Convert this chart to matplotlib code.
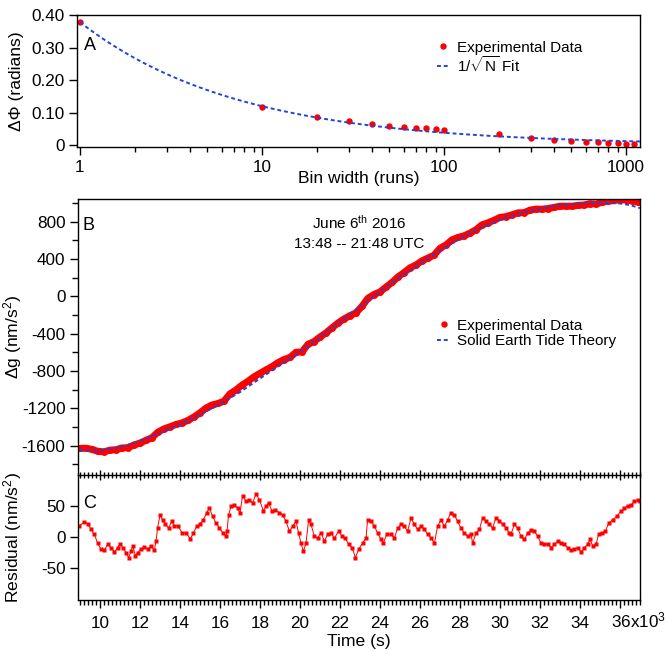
import matplotlib
matplotlib.use('Agg')
import matplotlib.pyplot as plt
import numpy as np
from matplotlib.lines import Line2D
from matplotlib.ticker import FixedLocator, FuncFormatter, NullFormatter, LogLocator

plt.rcParams['font.family'] = ['Liberation Sans', 'DejaVu Sans']
plt.rcParams['mathtext.fontset'] = 'custom'
plt.rcParams['mathtext.rm'] = 'Liberation Sans'
plt.rcParams['mathtext.it'] = 'Liberation Sans:italic'
plt.rcParams['mathtext.bf'] = 'Liberation Sans:bold'
plt.rcParams['axes.unicode_minus'] = False
plt.rcParams['axes.linewidth'] = 1.0

RED = '#ff0000'
BLUE = '#2045d8'

# panel A: phase noise vs bin width
bin_width = [1, 10, 20, 30, 40, 50, 60, 70, 80, 90, 100,
             200, 300, 400, 500, 600, 700, 800, 900, 1000, 1100]
dphi = [0.377, 0.118, 0.087, 0.074, 0.066, 0.059, 0.056, 0.053, 0.051, 0.049, 0.047,
        0.033, 0.022, 0.016, 0.013, 0.010, 0.008, 0.007, 0.005, 0.003, 0.003]
fit_amp = 0.378  # 1/sqrt(N) fit amplitude

# panel B: gravity vs time (time in 10^3 s)
t_data_ks = [9.0, 9.3, 9.6, 9.9, 10.2, 10.5, 10.8, 11.1, 11.4, 11.7,
             12.0, 12.3, 12.6, 12.9, 13.2, 13.5, 13.8, 14.1, 14.4, 14.7,
             15.0, 15.3, 15.6, 15.9, 16.2, 16.5, 16.8, 17.1, 17.4, 17.7,
             18.0, 18.3, 18.6, 18.9, 19.2, 19.5, 19.8, 20.1, 20.4, 20.7,
             21.0, 21.3, 21.6, 21.9, 22.2, 22.5, 22.8, 23.1, 23.4, 23.7,
             24.0, 24.3, 24.6, 24.9, 25.2, 25.5, 25.8, 26.1, 26.4, 26.7,
             27.0, 27.3, 27.6, 27.9, 28.2, 28.5, 28.8, 29.1, 29.4, 29.7,
             30.0, 30.3, 30.6, 30.9, 31.2, 31.5, 31.8, 32.1, 32.4, 32.7,
             33.0, 33.3, 33.6, 33.9, 34.2, 34.5, 34.8, 35.1, 35.4, 35.7,
             36.0, 36.3, 36.6, 36.9]
g_data = [-1628, -1626, -1639, -1660, -1664, -1647, -1642, -1623, -1620, -1591,
          -1571, -1541, -1513, -1453, -1419, -1396, -1372, -1355, -1328, -1291,
          -1247, -1196, -1163, -1147, -1122, -1043, -1002, -950, -909, -861,
          -824, -787, -752, -709, -676, -654, -598, -595, -513, -484,
          -435, -391, -337, -285, -242, -206, -176, -106, -19, 20,
          48, 100, 149, 209, 255, 306, 337, 381, 411, 441,
          515, 551, 606, 631, 649, 678, 714, 767, 788, 815,
          846, 855, 874, 895, 897, 924, 935, 934, 941, 953,
          966, 966, 966, 975, 979, 993, 989, 1008, 1020, 1027,
          1035, 1033, 1023, 1010]
t_theory_ks = [9, 10, 11, 12, 13, 14, 15, 16, 17, 18, 19, 20, 21, 22, 23,
               24, 25, 26, 27, 28, 29, 30, 31, 32, 33, 34, 35, 36, 36.5, 37]
g_theory = [-1648, -1650, -1615, -1550, -1460, -1372, -1268, -1152, -1025, -880,
            -735, -595, -440, -275, -110, 50, 210, 352, 490, 620,
            730, 820, 890, 940, 975, 995, 1003, 995, 978, 945]

# panel C: residual
t_res_ks = [8.97, 9.22, 9.38, 9.55, 9.72, 9.88,
            10.05, 10.22, 10.38, 10.55, 10.72, 10.88,
            11.0, 11.13, 11.3, 11.43, 11.55, 11.63, 11.77, 11.88,
            12.05, 12.22, 12.38, 12.55, 12.72, 12.8, 12.88,
            13.0, 13.13, 13.27, 13.43, 13.6, 13.72, 13.88,
            14.1, 14.3, 14.52, 14.67, 14.83,
            15.0, 15.17, 15.33, 15.47, 15.63, 15.8, 15.97,
            16.13, 16.3, 16.35, 16.43, 16.55, 16.72, 16.88,
            17.0, 17.13, 17.3, 17.47, 17.63, 17.8, 17.97,
            18.17, 18.3, 18.43, 18.6, 18.77, 18.97,
            19.13, 19.3, 19.47, 19.63, 19.8, 19.93,
            20.05, 20.17, 20.3, 20.43, 20.55, 20.72, 20.88,
            21.05, 21.22, 21.38, 21.55, 21.72, 21.93,
            22.1, 22.27, 22.43, 22.6, 22.77, 22.93,
            23.13, 23.3, 23.38, 23.55, 23.72, 23.88,
            24.05, 24.17, 24.33, 24.55, 24.72, 24.88,
            25.05, 25.22, 25.38, 25.55, 25.72, 25.88,
            26.05, 26.22, 26.38, 26.55, 26.72, 26.88,
            27.05, 27.22, 27.38, 27.55, 27.72, 27.88,
            28.05, 28.22, 28.38, 28.55, 28.63, 28.8, 28.97,
            29.13, 29.3, 29.47, 29.63, 29.8, 29.97,
            30.13, 30.3, 30.47, 30.55, 30.72, 30.88,
            31.05, 31.22, 31.38, 31.55, 31.72, 31.88,
            32.05, 32.22, 32.38, 32.55, 32.72, 32.88,
            33.05, 33.22, 33.38, 33.55, 33.72, 33.88,
            34.05, 34.22, 34.38, 34.5, 34.63, 34.8, 34.93,
            35.1, 35.27, 35.43, 35.63, 35.83,
            36.05, 36.22, 36.38, 36.55, 36.72, 36.88, 37.0]
residual = [18, 24, 21, 12, 4, -10,
            -20, -21, -12, -17, -24, -17,
            -11, -17, -25, -33, -23, -14, -30, -25,
            -20, -16, -19, -15, -21, -7, 14,
            35, 27, 20, 14, 26, 17, 18,
            7, 6, -3, 6, 17,
            21, 27, 39, 46, 33, 22, 14,
            7, 1, 9, 35, 49, 51, 46,
            38, 66, 57, 59, 54, 69, 59,
            42, 49, 55, 41, 43, 39,
            35, 25, 9, 17, 25, 6,
            -10, -23, -10, 27, 20, 1, -2,
            7, -7, 4, 6, -2, 9,
            1, -2, -12, -17, -33, -20,
            -10, -2, 27, 25, 17, 6,
            -4, -10, 4, 4, -2, 14,
            20, 17, 9, 30, 20, 12,
            17, 12, 4, -2, -10, 17,
            27, 17, 27, 39, 35, 25,
            14, 6, 1, 4, -10, 6, 12,
            30, 25, 20, 14, 31, 26,
            20, 14, 6, 4, 20, 14,
            1, -4, 6, 11, 9, 1,
            -10, -11, -12, -17, -12, -7,
            -10, -12, -17, -21, -20, -17,
            -24, -17, -12, -4, -14, -12, 4,
            6, 9, 22, 27, 33,
            41, 46, 50, 51, 57, 59, 57]

t_data = np.array(t_data_ks) * 1000
t_theory = np.array(t_theory_ks) * 1000
t_res = np.array(t_res_ks) * 1000

W, H = 667, 651
fig = plt.figure(figsize=(W / 100, H / 100), dpi=100)
axA = fig.add_axes([77 / W, 1 - 147 / H, 563 / W, 132 / H])
axB = fig.add_axes([78 / W, 1 - 475 / H, 562 / W, 276 / H])
axC = fig.add_axes([78 / W, 1 - 600 / H, 562 / W, 125 / H])

TICK_FS = 12.3
LAB_FS = 12.6
LEG_FS = 11

# ---- panel A
axA.plot(bin_width, dphi, 'o', color=RED, ms=4.6, mec='none', zorder=2,
         label='Experimental Data')
N = np.logspace(0, np.log10(1200), 300)
axA.plot(N, fit_amp / np.sqrt(N), ls=(0, (2, 1.5)), color=BLUE, lw=1.4, zorder=3,
         label=r'1/$\sqrt{\mathrm{N}}$ Fit')
axA.set_xscale('log')
axA.set_xlim(0.963, 1194)
axA.set_ylim(-0.006, 0.40)
axA.set_yticks([0, 0.1, 0.2, 0.3, 0.4])
axA.set_yticklabels(['0', '0.10', '0.20', '0.30', '0.40'])
axA.set_xticks([1, 10, 100, 1000])
axA.set_xticklabels(['1', '10', '100', '1000'])
axA.xaxis.set_minor_locator(LogLocator(base=10, subs=np.arange(2, 10)))
axA.xaxis.set_minor_formatter(NullFormatter())
axA.tick_params(which='major', direction='out', length=6, width=1,
                labelsize=TICK_FS, pad=3)
axA.tick_params(which='minor', direction='out', length=3.5, width=1)
axA.tick_params(axis='y', which='minor', left=False)
axA.set_ylabel('ΔΦ (radians)', fontsize=LAB_FS)
axA.yaxis.set_label_coords(-0.094, 0.5)
axA.set_xlabel('Bin width (runs)', fontsize=LAB_FS)
axA.xaxis.set_label_coords(0.5, -0.18)
axA.text(0.012, 0.835, 'A', transform=axA.transAxes, fontsize=13,
         ha='left', va='top')
axA.legend(loc='upper left', bbox_to_anchor=(0.639, 0.805), frameon=False,
           fontsize=LEG_FS, handlelength=0.85, handletextpad=0.45,
           labelspacing=0.0, borderpad=0, borderaxespad=0, numpoints=1)

# ---- panel B
axB.plot(t_data, g_data, '-o', color=RED, lw=5, ms=5, mec='none', zorder=2)
axB.plot(t_theory, g_theory, ls=(0, (2, 1.5)), color=BLUE, lw=1.4, zorder=3)
axB.set_xlim(8900, 37000)
axB.set_ylim(-1913, 1043)
axB.yaxis.set_major_locator(FixedLocator(np.arange(-1600, 801, 400)))
axB.yaxis.set_minor_locator(FixedLocator(np.arange(-1800, 1001, 400)))
axB.xaxis.set_major_locator(FixedLocator(np.arange(10000, 36001, 2000)))
axB.xaxis.set_minor_locator(FixedLocator(np.arange(9000, 37001, 200)))
axB.tick_params(axis='y', which='major', direction='out', length=6, width=1,
                labelsize=TICK_FS, pad=3)
axB.tick_params(axis='y', which='minor', direction='out', length=4, width=1)
axB.tick_params(axis='x', which='major', direction='inout', length=7, width=1,
                labelbottom=False)
axB.tick_params(axis='x', which='minor', direction='inout', length=5, width=1)
axB.set_ylabel('Δg (nm/s$^2$)', fontsize=LAB_FS)
axB.yaxis.set_label_coords(-0.096, 0.5)
axB.text(0.0085, 0.936, 'B', transform=axB.transAxes, fontsize=13,
         ha='left', va='top')
axB.text(0.5, 0.893, r'June 6$^{\mathrm{th}}$ 2016', transform=axB.transAxes,
         fontsize=LEG_FS, ha='center', va='baseline')
axB.text(0.5, 0.824, '13:48 -- 21:48 UTC', transform=axB.transAxes,
         fontsize=LEG_FS, ha='center', va='baseline')
handles_B = [Line2D([], [], ls='none', marker='o', color=RED, ms=4.6, mec='none'),
             Line2D([], [], ls=(0, (2, 1.5)), color=BLUE, lw=1.4)]
axB.legend(handles_B, ['Experimental Data', 'Solid Earth Tide Theory'],
           loc='upper left', bbox_to_anchor=(0.639, 0.567), frameon=False,
           fontsize=LEG_FS, handlelength=0.85, handletextpad=0.45,
           labelspacing=0.12, borderpad=0, borderaxespad=0, numpoints=1)

# ---- panel C
axC.patch.set_visible(False)
axC.spines['top'].set_visible(False)
axC.plot(t_res, residual, '-s', color=RED, lw=0.7, ms=2.4, mec='none')
axC.set_xlim(8900, 37000)
axC.set_ylim(-101, 99)
axC.set_yticks([-50, 0, 50])
axC.xaxis.set_major_locator(FixedLocator(np.arange(10000, 36001, 2000)))
axC.xaxis.set_minor_locator(FixedLocator(np.arange(9000, 37001, 200)))
axC.xaxis.set_major_formatter(
    FuncFormatter(lambda v, pos: '' if v >= 36000 else f'{v / 1000:.0f}'))
axC.tick_params(which='major', direction='out', length=6, width=1,
                labelsize=TICK_FS, pad=5.8)
axC.tick_params(axis='y', which='major', pad=3)
axC.tick_params(which='minor', direction='out', length=3.5, width=1)
axC.annotate('36x10$^3$', xy=(36000, 0), xycoords=('data', 'axes fraction'),
             xytext=(-6.8, -19.6), textcoords='offset points',
             ha='left', va='baseline', fontsize=TICK_FS)
axC.set_ylabel('Residual (nm/s$^2$)', fontsize=LAB_FS)
axC.yaxis.set_label_coords(-0.096, 0.5)
axC.set_xlabel('Time (s)', fontsize=LAB_FS)
axC.xaxis.set_label_coords(0.5, -0.27)
axC.text(0.009, 0.84, 'C', transform=axC.transAxes, fontsize=13,
         ha='left', va='top')

fig.savefig('out.png', dpi=100)
